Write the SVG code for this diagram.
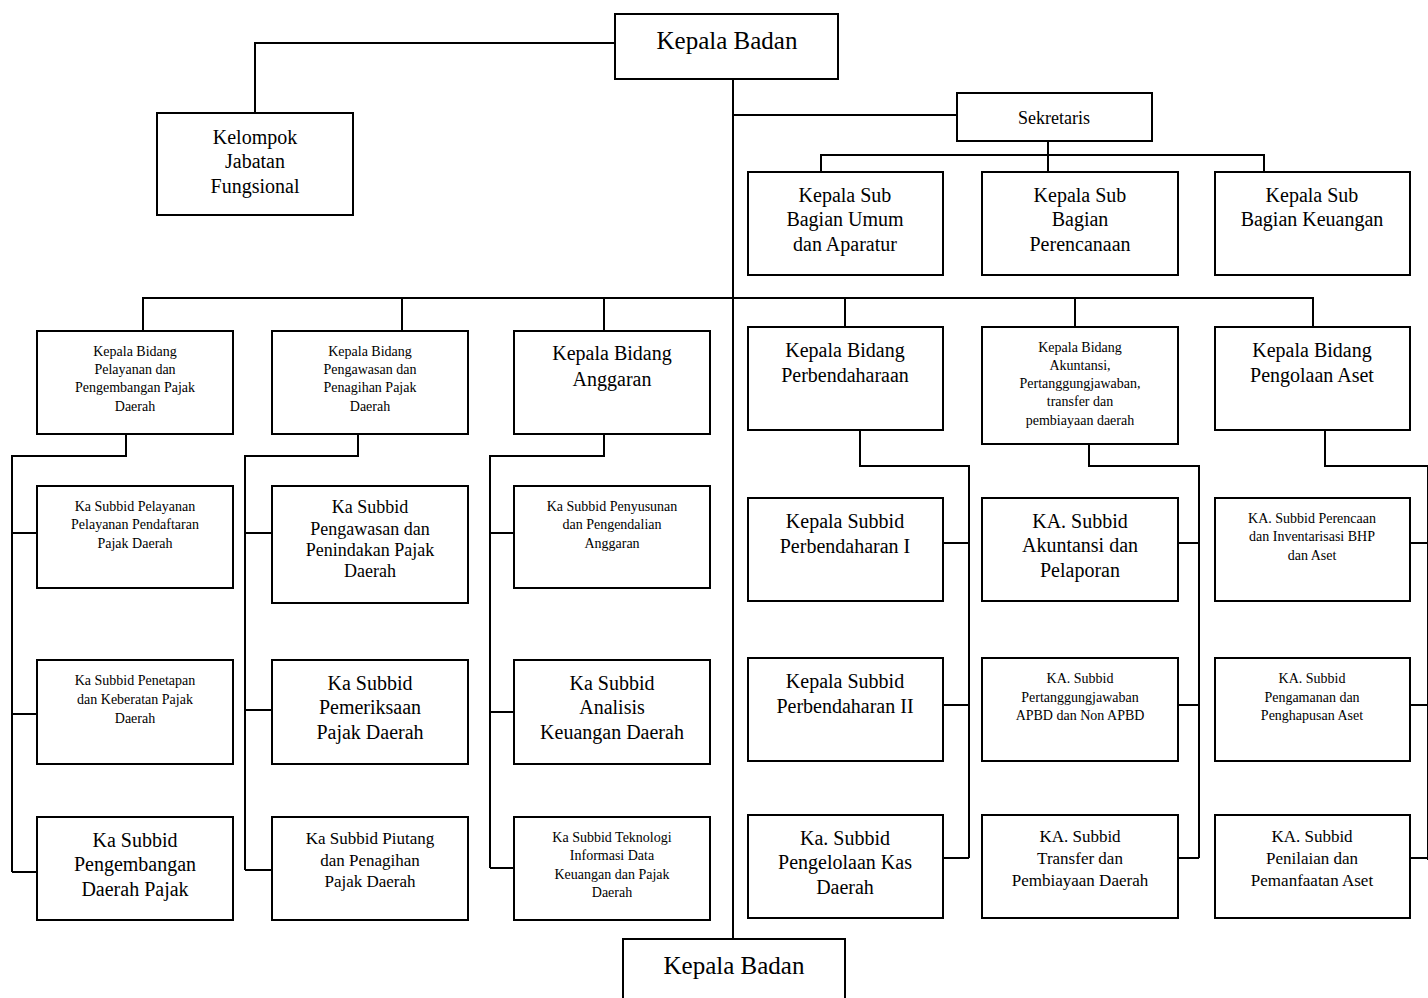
<svg xmlns="http://www.w3.org/2000/svg" width="1428" height="998" viewBox="0 0 1428 998">
<style>
.box{fill:#fff;stroke:#000;stroke-width:2}
.ln{fill:none;stroke:#000;stroke-width:2}
text{font-family:"Liberation Serif","Times New Roman",serif;fill:#000;text-anchor:middle}
.f24{font-size:25px}
.f20{font-size:20px}
.f18{font-size:18px}
.f17{font-size:17px}
.f14{font-size:14px}
</style>
<rect width="1428" height="998" fill="#fff"/>
<g id="connectors" class="ln">
<path d="M615 43H255V113"/>
<path d="M733 79V939"/>
<path d="M733 115H957"/>
<path d="M1048 141V172M821 172V155H1264V172"/>
<path d="M143 331V298H1313V327M402 298V331M604 298V331M845 298V327M1075 298V327"/>
<path d="M126 434V456H12V872M12 533H37M12 714H37M12 872H37"/>
<path d="M358 434V456H245V870M245 533H272M245 710H272M245 870H272"/>
<path d="M604 434V456H490V868M490 533H514M490 712H514M490 868H514"/>
<path d="M860 430V466H969V858M943 543H969M943 705H969M943 858H969"/>
<path d="M1089 444V466H1199V858M1178 543H1199M1178 705H1199M1178 858H1199"/>
<path d="M1325 430V466H1430M1428 466V860M1410 543H1430M1410 705H1430M1410 858H1430"/>
</g>
<g id="kepala-badan"><rect class="box" x="615" y="14" width="223" height="65"/><text class="f24" x="727" y="49">Kepala Badan</text></g>
<g id="kelompok"><rect class="box" x="157" y="113" width="196" height="102"/><text class="f20" x="255" y="144">Kelompok</text><text class="f20" x="255" y="168">Jabatan</text><text class="f20" x="255" y="193">Fungsional</text></g>
<g id="sekretaris"><rect class="box" x="957" y="93" width="195" height="48"/><text class="f18" x="1054" y="124">Sekretaris</text></g>
<g id="sub-umum"><rect class="box" x="748" y="172" width="195" height="103"/><text class="f20" x="845" y="202">Kepala Sub</text><text class="f20" x="845" y="226">Bagian Umum</text><text class="f20" x="845" y="251">dan Aparatur</text></g>
<g id="sub-perencanaan"><rect class="box" x="982" y="172" width="196" height="103"/><text class="f20" x="1080" y="202">Kepala Sub</text><text class="f20" x="1080" y="226">Bagian</text><text class="f20" x="1080" y="251">Perencanaan</text></g>
<g id="sub-keuangan"><rect class="box" x="1215" y="172" width="195" height="103"/><text class="f20" x="1312" y="202">Kepala Sub</text><text class="f20" x="1312" y="226">Bagian Keuangan</text></g>

<g id="bidang-pelayanan"><rect class="box" x="37" y="331" width="196" height="103"/><text class="f14" x="135" y="356">Kepala Bidang</text><text class="f14" x="135" y="374">Pelayanan dan</text><text class="f14" x="135" y="392">Pengembangan Pajak</text><text class="f14" x="135" y="411">Daerah</text></g>
<g id="bidang-pengawasan"><rect class="box" x="272" y="331" width="196" height="103"/><text class="f14" x="370" y="356">Kepala Bidang</text><text class="f14" x="370" y="374">Pengawasan dan</text><text class="f14" x="370" y="392">Penagihan Pajak</text><text class="f14" x="370" y="411">Daerah</text></g>
<g id="bidang-anggaran"><rect class="box" x="514" y="331" width="196" height="103"/><text class="f20" x="612" y="360">Kepala Bidang</text><text class="f20" x="612" y="386">Anggaran</text></g>
<g id="bidang-perbendaharaan"><rect class="box" x="748" y="327" width="195" height="103"/><text class="f20" x="845" y="357">Kepala Bidang</text><text class="f20" x="845" y="382">Perbendaharaan</text></g>
<g id="bidang-akuntansi"><rect class="box" x="982" y="327" width="196" height="117"/><text class="f14" x="1080" y="352">Kepala Bidang</text><text class="f14" x="1080" y="370">Akuntansi,</text><text class="f14" x="1080" y="388">Pertanggungjawaban,</text><text class="f14" x="1080" y="406">transfer dan</text><text class="f14" x="1080" y="425">pembiayaan daerah</text></g>
<g id="bidang-aset"><rect class="box" x="1215" y="327" width="195" height="103"/><text class="f20" x="1312" y="357">Kepala Bidang</text><text class="f20" x="1312" y="382">Pengolaan Aset</text></g>

<g id="sub-pendaftaran"><rect class="box" x="37" y="486" width="196" height="102"/><text class="f14" x="135" y="511">Ka Subbid Pelayanan</text><text class="f14" x="135" y="529">Pelayanan Pendaftaran</text><text class="f14" x="135" y="548">Pajak Daerah</text></g>
<g id="sub-penetapan"><rect class="box" x="37" y="660" width="196" height="104"/><text class="f14" x="135" y="685">Ka Subbid Penetapan</text><text class="f14" x="135" y="704">dan Keberatan Pajak</text><text class="f14" x="135" y="723">Daerah</text></g>
<g id="sub-pengembangan"><rect class="box" x="37" y="817" width="196" height="103"/><text class="f20" x="135" y="847">Ka Subbid</text><text class="f20" x="135" y="871">Pengembangan</text><text class="f20" x="135" y="896">Daerah Pajak</text></g>

<g id="sub-penindakan"><rect class="box" x="272" y="486" width="196" height="117"/><text class="f18" x="370" y="513">Ka Subbid</text><text class="f18" x="370" y="535">Pengawasan dan</text><text class="f18" x="370" y="556">Penindakan Pajak</text><text class="f18" x="370" y="577">Daerah</text></g>
<g id="sub-pemeriksaan"><rect class="box" x="272" y="660" width="196" height="104"/><text class="f20" x="370" y="690">Ka Subbid</text><text class="f20" x="370" y="714">Pemeriksaan</text><text class="f20" x="370" y="739">Pajak Daerah</text></g>
<g id="sub-piutang"><rect class="box" x="272" y="817" width="196" height="103"/><text class="f17" x="370" y="844">Ka Subbid Piutang</text><text class="f17" x="370" y="866">dan Penagihan</text><text class="f17" x="370" y="887">Pajak Daerah</text></g>

<g id="sub-penyusunan"><rect class="box" x="514" y="486" width="196" height="102"/><text class="f14" x="612" y="511">Ka Subbid Penyusunan</text><text class="f14" x="612" y="529">dan Pengendalian</text><text class="f14" x="612" y="548">Anggaran</text></g>
<g id="sub-analisis"><rect class="box" x="514" y="660" width="196" height="104"/><text class="f20" x="612" y="690">Ka Subbid</text><text class="f20" x="612" y="714">Analisis</text><text class="f20" x="612" y="739">Keuangan Daerah</text></g>
<g id="sub-teknologi"><rect class="box" x="514" y="817" width="196" height="103"/><text class="f14" x="612" y="842">Ka Subbid Teknologi</text><text class="f14" x="612" y="860">Informasi Data</text><text class="f14" x="612" y="879">Keuangan dan Pajak</text><text class="f14" x="612" y="897">Daerah</text></g>

<g id="sub-perbendaharaan-1"><rect class="box" x="748" y="498" width="195" height="103"/><text class="f20" x="845" y="528">Kepala Subbid</text><text class="f20" x="845" y="553">Perbendaharan I</text></g>
<g id="sub-perbendaharaan-2"><rect class="box" x="748" y="658" width="195" height="103"/><text class="f20" x="845" y="688">Kepala Subbid</text><text class="f20" x="845" y="713">Perbendaharan II</text></g>
<g id="sub-kas"><rect class="box" x="748" y="815" width="195" height="103"/><text class="f20" x="845" y="845">Ka. Subbid</text><text class="f20" x="845" y="869">Pengelolaan Kas</text><text class="f20" x="845" y="894">Daerah</text></g>

<g id="sub-akuntansi"><rect class="box" x="982" y="498" width="196" height="103"/><text class="f20" x="1080" y="528">KA. Subbid</text><text class="f20" x="1080" y="552">Akuntansi dan</text><text class="f20" x="1080" y="577">Pelaporan</text></g>
<g id="sub-pertanggungjawaban"><rect class="box" x="982" y="658" width="196" height="103"/><text class="f14" x="1080" y="683">KA. Subbid</text><text class="f14" x="1080" y="702">Pertanggungjawaban</text><text class="f14" x="1080" y="720">APBD dan Non APBD</text></g>
<g id="sub-transfer"><rect class="box" x="982" y="815" width="196" height="103"/><text class="f17" x="1080" y="842">KA. Subbid</text><text class="f17" x="1080" y="864">Transfer dan</text><text class="f17" x="1080" y="886">Pembiayaan Daerah</text></g>

<g id="sub-perencanaan-aset"><rect class="box" x="1215" y="498" width="195" height="103"/><text class="f14" x="1312" y="523">KA. Subbid Perencaan</text><text class="f14" x="1312" y="541">dan Inventarisasi BHP</text><text class="f14" x="1312" y="560">dan Aset</text></g>
<g id="sub-pengamanan"><rect class="box" x="1215" y="658" width="195" height="103"/><text class="f14" x="1312" y="683">KA. Subbid</text><text class="f14" x="1312" y="702">Pengamanan dan</text><text class="f14" x="1312" y="720">Penghapusan Aset</text></g>
<g id="sub-penilaian"><rect class="box" x="1215" y="815" width="195" height="103"/><text class="f17" x="1312" y="842">KA. Subbid</text><text class="f17" x="1312" y="864">Penilaian dan</text><text class="f17" x="1312" y="886">Pemanfaatan Aset</text></g>

<g id="kepala-badan-bottom"><rect class="box" x="623" y="939" width="222" height="70"/><text class="f24" x="734" y="974">Kepala Badan</text></g>
</svg>
